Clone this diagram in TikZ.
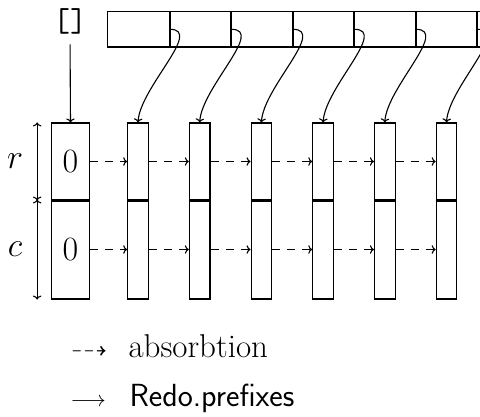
\RequirePackage{fix-cm}
\documentclass[tikz,border=0pt]{standalone}
\usepackage{amssymb,amsmath}
\usepackage{tikz}
\usetikzlibrary{arrows.meta}
\tikzset{>={To[length=4pt,width=8.5pt]},
  cell/.style={draw,line width=1.1pt,inner sep=0pt,minimum width=20.6pt},
  arrcell/.style={draw,line width=1.1pt,inner sep=0pt,minimum width=61.5pt,minimum height=35.5pt},
  absorb/.style={->,line width=1.1pt,dash pattern=on 8pt off 7pt},
  redo/.style={->,line width=1.1pt},
  sep/.style={line width=2pt}}
\newcommand{\bigfont}{\fontsize{34}{40}\selectfont}

\begin{document}
\begin{tikzpicture}[x=1pt,y=-1pt,line width=1.1pt]
\useasboundingbox (0,0) rectangle (480,417);
\clip (0,0) rectangle (480,417);

% first column, starting value
\node[cell,minimum width=37.6pt,minimum height=77pt] (r0) at (70.5,161.5) {\bigfont 0};
\node[cell,minimum width=37.6pt,minimum height=99pt] (c0) at (70.5,249.5) {\bigfont 0};
\draw[sep] (r0.south west) -- (r0.south east);

\foreach \i in {1,...,6} {
  \node[cell,minimum height=77pt] (r\i) at ({138+61.7*(\i-1)},161.5) {};
  \node[cell,minimum height=99pt] (c\i) at ({138+61.7*(\i-1)},249.5) {};
  \draw[sep] (r\i.south west) -- (r\i.south east);
}

% the list on top
\foreach \i in {1,...,7}
  \node[arrcell] (a\i) at ({138.45+61.5*(\i-1)},29.3) {};
\foreach \i in {1,...,6} {
  \draw[sep] (a\i.north east) -- (a\i.south east);
  \draw[redo] (a\i.east) .. controls +(34,0) and +(2,-35) .. (r\i.north);
}

\node[inner sep=0pt] (lst) at (70,21) {\fontsize{33}{40}\selectfont\ttfamily []};
\draw[redo,shorten <=10pt] (lst.south) -- (r0.north);

% absorbtion steps
\foreach \i [count=\j from 1] in {0,...,5} {
  \draw[absorb] (r\i.east) -- (r\j.west);
  \draw[absorb] (c\i.east) -- (c\j.west);
}

% sizes
\draw[<->] ([xshift=-14pt]r0.north west) -- ([xshift=-14pt]r0.south west);
\draw[<->] ([xshift=-14pt]c0.north west) -- ([xshift=-14pt]c0.south west);
\node (lr) at (15,161.5) {\fontsize{34}{40}\selectfont $r$};
\node (lc) at (15,249.5) {\fontsize{34}{40}\selectfont $c$};

% legend
\node[anchor=base west,inner sep=0pt] (lda) at (70,357) {\fontsize{24.88}{30}\selectfont $\dashrightarrow$};
\node[anchor=base west,inner sep=0pt] (labs) at (128,357) {\fontsize{33}{40}\selectfont absorbtion};
\node[anchor=base west,inner sep=0pt] (lra) at (70,406) {\fontsize{22}{28}\selectfont $\longrightarrow$};
\node[anchor=base west,inner sep=0pt] (lredo) at (129,406) {\fontsize{32}{38}\selectfont\sffamily Redo.prefixes};
\end{tikzpicture}
\end{document}
